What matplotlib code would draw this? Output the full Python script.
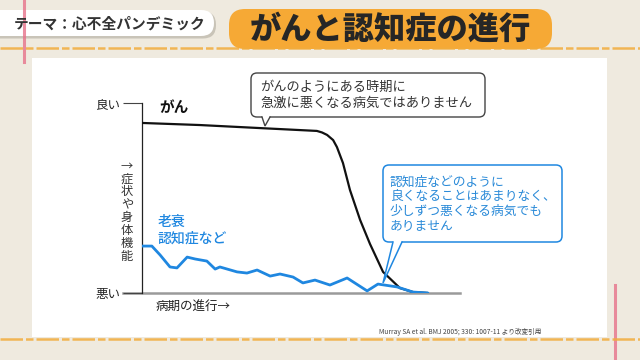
import matplotlib
matplotlib.use("Agg")
import matplotlib.pyplot as plt
from matplotlib.patches import FancyBboxPatch, Polygon

plt.rcParams['font.family'] = ['Noto Sans CJK JP', 'DejaVu Sans']

# ---- data (progress 0-100, function 0-100) ----
cancer_x = [0, 18.2, 37.1, 55.0, 56.6, 58.2, 60.1, 61.3, 63.2, 65.4, 68.6, 71.7, 75.8, 81.1, 85.2, 89.9]
cancer_y = [89.5, 88.4, 86.8, 85.3, 84.5, 83.2, 80.5, 76.8, 68.4, 54.2, 38.4, 25.8, 11.1, 2.6, 0.5, 0.0]

frail_x = [0, 3.1, 5.7, 8.8, 11.0, 14.2, 16.7, 20.4, 23.0, 24.5, 29.9, 33.0, 36.2, 40.3, 43.4,
           47.5, 50.6, 54.4, 59.1, 64.5, 70.8, 74.2, 80.2, 85.2, 89.9]
frail_y = [24.7, 24.7, 20.0, 13.7, 13.2, 18.9, 17.9, 16.8, 12.6, 13.7, 11.1, 10.5, 12.1, 8.9, 10.0,
           8.4, 5.3, 6.8, 4.2, 7.9, 1.1, 4.7, 3.2, 0.5, 0.0]

ytick_vals = [100, 0]
ytick_labels = ['良い', '悪い']
ylabel_text = '→症状や身体機能'
xlabel_text = '病期の進行→'
title_left = 'テーマ：心不全パンデミック'
title_main = 'がんと認知症の進行'
cancer_label = 'がん'
frail_label = '老衰\n認知症など'
callout_black = 'がんのようにある時期に\n急激に悪くなる病気ではありません'
callout_blue = '認知症などのように\n良くなることはあまりなく、\n少しずつ悪くなる病気でも\nありません'
source = 'Murray SA et al. BMJ 2005; 330: 1007-11 より改変引用'

BG = '#efeadf'
ORANGE = '#f6a935'
BLUE = '#1f87e0'

fig = plt.figure(figsize=(6.4, 3.6), dpi=100)
fig.patch.set_facecolor(BG)

# background / decoration axes in pixel coords
bg = fig.add_axes([0, 0, 1, 1], zorder=0)
bg.set_xlim(0, 640); bg.set_ylim(360, 0); bg.axis('off')

# white panel
bg.add_patch(plt.Rectangle((32, 58), 575, 279, facecolor='white', edgecolor='none'))
# pink margin lines
bg.plot([24, 24], [0, 62], color='#e7728a', lw=2.2, alpha=0.8)
bg.plot([615, 615], [285, 360], color='#e7728a', lw=2.2, alpha=0.8)
# orange dashed rules
bg.plot([0, 640], [48, 48], color='#f2ac3c', lw=1.8, ls=(0, (9, 1.2, 3, 1.2)), alpha=0.85)
bg.plot([0, 640], [339, 339], color='#f2ac3c', lw=1.8, ls=(0, (9, 1.2, 3, 1.2)), alpha=0.85)

# left title pill
bg.add_patch(FancyBboxPatch((-20, 11.5), 236, 27, boxstyle='round,pad=0,rounding_size=13',
                            facecolor='#c9c4b8', edgecolor='none'))
bg.add_patch(FancyBboxPatch((-20, 10), 234, 26, boxstyle='round,pad=0,rounding_size=13',
                            facecolor='white', edgecolor='none'))
bg.text(14, 24, title_left, fontsize=10.6, fontweight='bold', color='#333333',
        ha='left', va='center')

# main title pill
bg.add_patch(FancyBboxPatch((229, 9), 323, 40, boxstyle='round,pad=0,rounding_size=16',
                            facecolor=ORANGE, edgecolor='none'))
bg.text(390, 29, title_main, fontsize=22.5, fontweight='black', color='#262626',
        ha='center', va='center')

# source
bg.text(379, 332, source, fontsize=4.8, color='#444444', ha='left', va='center')

# ---- chart axes ----
ax = fig.add_axes([142 / 640, (360 - 293) / 360, 318 / 640, 190 / 360], zorder=1)
ax.set_facecolor('none')
ax.set_xlim(0, 100); ax.set_ylim(0, 100)
for s in ['top', 'right', 'bottom']:
    ax.spines[s].set_visible(False)
ax.spines['left'].set_color('#222222'); ax.spines['left'].set_linewidth(0.9)
ax.set_xticks([])
ax.set_yticks(ytick_vals)
ax.set_yticklabels(ytick_labels, fontsize=9, color='#222222')
ax.tick_params(axis='y', length=13.5, width=0.8, color='#444444', pad=2)

ax.plot([-6, 100], [0, 0], color='#9a9a9a', lw=1.8, clip_on=False, zorder=1)

ax.plot(cancer_x, cancer_y, color='#111111', lw=1.6, zorder=3,
        solid_capstyle='round', solid_joinstyle='round')
ax.plot(frail_x, frail_y, color=BLUE, lw=2.0, zorder=4,
        solid_capstyle='round', solid_joinstyle='round')

ax.text(5.3, 98, cancer_label, fontsize=10.5, fontweight='bold', color='#111111',
        ha='left', va='center')
ax.text(5.0, 33, frail_label, fontsize=10, fontweight='medium', color=BLUE,
        ha='left', va='center', linespacing=1.25)

# vertical stacked y label
for i, ch in enumerate(ylabel_text):
    bg.text(127, 166 + i * 12.9, ch, fontsize=8.8, color='#333333',
            ha='center', va='center')

ax.text(14 / 318, -14 / 190, xlabel_text, transform=ax.transAxes, fontsize=9,
        color='#222222', ha='left', va='center')

# ---- callouts (overlay, pixel coords) ----
ov = fig.add_axes([0, 0, 1, 1], zorder=5)
ov.set_xlim(0, 640); ov.set_ylim(360, 0); ov.axis('off'); ov.set_facecolor('none')


def callout(x0, y0, w, h, tail, ec, lw):
    ov.add_patch(FancyBboxPatch((x0, y0), w, h, boxstyle='round,pad=0,rounding_size=6',
                                facecolor='white', edgecolor=ec, lw=lw))
    (a, b, tip) = tail
    ov.add_patch(Polygon([(a, y0 + h - 1.2), (b, y0 + h - 1.2), tip], closed=True,
                         facecolor='white', edgecolor='none'))
    ov.plot([a, tip[0], b], [y0 + h, tip[1], y0 + h], color=ec, lw=lw,
            solid_joinstyle='miter')


callout(251, 73, 234, 44, (262, 270, (265, 126)), '#444444', 1.0)
ov.text(260, 95.5, callout_black, fontsize=9.5, color='#333333', ha='left', va='center',
        linespacing=1.25)

callout(383, 165, 179, 77, (393, 402, (383, 283)), BLUE, 1.1)
ov.text(390, 204, callout_blue, fontsize=9.2, color='#2a8ad8', ha='left', va='center',
        linespacing=1.18)

fig.savefig('out.png', dpi=100, facecolor=fig.get_facecolor())
